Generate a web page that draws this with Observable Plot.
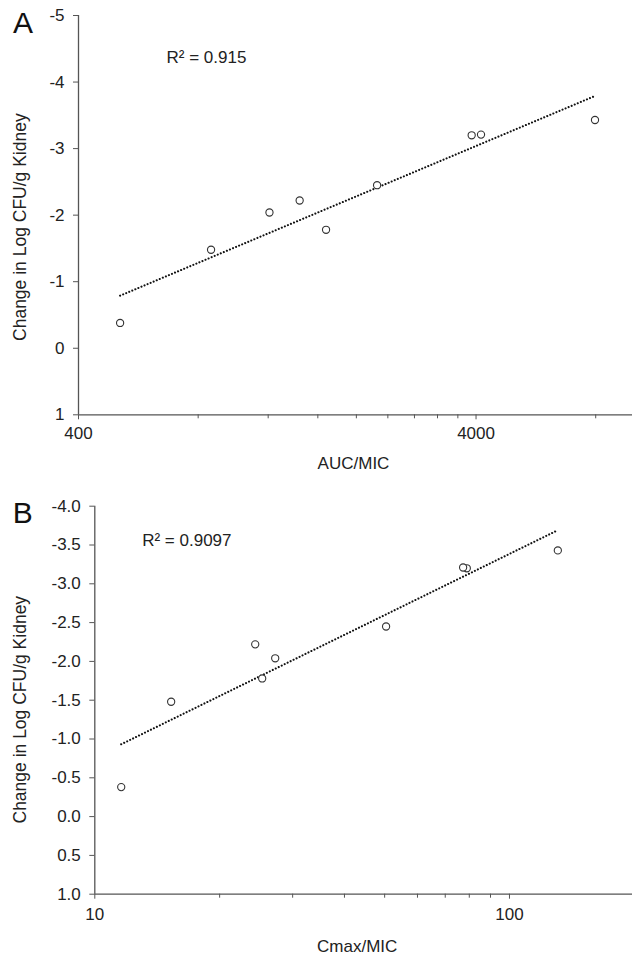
<!DOCTYPE html>
<html>
<head>
<meta charset="utf-8">
<script src="https://cdn.jsdelivr.net/npm/d3@7"></script>
<script src="https://cdn.jsdelivr.net/npm/@observablehq/plot@0.6"></script>
<style>
  html, body { margin: 0; padding: 0; background: #fff; }
  #chart { width: 633px; }
  #chart svg { display: block; }
</style>
</head>
<body>
<div id="chart"></div>
<script>
// ---- Data ----
const logChange = [-0.38, -1.48, -2.04, -2.22, -1.78, -2.45, -3.20, -3.21, -3.43];
const aucMic    = [509, 862, 1209, 1440, 1678, 2255, 3900, 4117, 7967];
const cmaxMic   = [11.58, 15.28, 27.23, 24.37, 25.33, 50.4, 78.9, 77.3, 130.8];

const panelLetters = ["A", "B"];
const r2Labels = ["R² = 0.915", "R² = 0.9097"];
const xLabels = ["AUC/MIC", "Cmax/MIC"];
const yLabel = "Change in Log CFU/g Kidney";

const xDomainA = [400, 9900];
const xMajorA = [400, 4000];
const xMinorA = [800, 1200, 1600, 2000, 2400, 2800, 3200, 3600, 8000];
const yTicksA = [-5, -4, -3, -2, -1, 0, 1];

const xDomainB = [10, 198];
const xMajorB = [10, 100];
const xMinorB = [20, 30, 40, 50, 60, 70, 80, 90];
const yTicksB = [-4.0, -3.5, -3.0, -2.5, -2.0, -1.5, -1.0, -0.5, 0.0, 0.5, 1.0];

// Least-squares fit of y on log10(x) (Excel logarithmic trendline)
function logFit(xs, ys) {
  const lx = xs.map(Math.log10);
  const mx = d3.mean(lx), my = d3.mean(ys);
  const b = d3.sum(lx, (v, i) => (v - mx) * (ys[i] - my)) / d3.sum(lx, v => (v - mx) ** 2);
  const a = my - b * mx;
  const ext = d3.extent(xs);
  return ext.map(x => ({x, y: a + b * Math.log10(x)}));
}

const font = "'Liberation Sans', Arial, Helvetica, sans-serif";
const axisColor = "#555";
const textColor = "#222";

function panel(cfg) {
  const pts = cfg.xs.map((x, i) => ({x, y: cfg.ys[i]}));
  const fit = logFit(cfg.xs, cfg.ys);
  return Plot.plot({
    width: 633,
    height: cfg.height,
    marginTop: cfg.mt,
    marginBottom: cfg.mb,
    marginLeft: cfg.ml,
    marginRight: 1,
    style: {fontFamily: font, fontSize: "17px", color: textColor, background: "white", overflow: "visible"},
    x: {type: "log", domain: cfg.xDomain},
    y: {domain: cfg.yDomain, reverse: true},
    marks: [
      Plot.ruleX([cfg.xDomain[0]], {stroke: axisColor, strokeWidth: 1.3}),
      Plot.ruleY([cfg.yDomain[1]], {stroke: axisColor, strokeWidth: 1.3}),
      Plot.axisY(cfg.yTicks, {tickSize: 5, tickPadding: cfg.ytp, tickFormat: cfg.yFmt, label: null, stroke: axisColor, fill: textColor}),
      Plot.axisX(cfg.xMajor, {tickSize: 5, tickPadding: cfg.xtp, tickFormat: d => String(d), label: null, stroke: axisColor, fill: textColor}),
      Plot.axisX(cfg.xMinor, {tickSize: 4, tickFormat: () => "", label: null, stroke: axisColor}),
      Plot.line(fit, {x: "x", y: "y", stroke: "#111", strokeWidth: 2.1, strokeDasharray: "0.01,3.3", strokeLinecap: "round"}),
      Plot.dot(pts, {x: "x", y: "y", r: 3.6, stroke: "#333", strokeWidth: 1.1, fill: "white"}),
      Plot.text([cfg.r2], {frameAnchor: "top-left", dx: cfg.r2dx, dy: cfg.r2dy, textAnchor: "start", lineAnchor: "middle", fontSize: 17, fill: textColor}),
      Plot.text([cfg.letter], {frameAnchor: "top-left", dx: cfg.ldx, dy: cfg.ldy, textAnchor: "middle", lineAnchor: "middle", fontSize: 30, fill: "#111"}),
      Plot.text([yLabel], {frameAnchor: "left", rotate: -90, dx: cfg.yldx, dy: cfg.yldy, textAnchor: "middle", lineAnchor: "middle", fontSize: 17.5, fill: textColor}),
      Plot.text([cfg.xLabel], {frameAnchor: "bottom", dx: cfg.xldx, dy: cfg.xldy, textAnchor: "middle", lineAnchor: "middle", fontSize: 17, fill: textColor})
    ]
  });
}

const chart = document.getElementById("chart");

chart.append(panel({
  height: 470, mt: 15, mb: 55.7, ml: 78,
  xs: aucMic, ys: logChange,
  xDomain: xDomainA, yDomain: [-5, 1],
  xMajor: xMajorA, xMinor: xMinorA, yTicks: yTicksA,
  yFmt: d => String(d), ytp: 9, xtp: 7,
  r2: r2Labels[0], r2dx: 88, r2dy: 41.7,
  letter: panelLetters[0], ldx: -55.5, ldy: 7.5,
  xLabel: xLabels[0], xldx: -2, xldy: 48.7,
  yldx: -58, yldy: 12
}));

chart.append(panel({
  height: 487, mt: 35.7, mb: 63.3, ml: 94.3,
  xs: cmaxMic, ys: logChange,
  xDomain: xDomainB, yDomain: [-4, 1],
  xMajor: xMajorB, xMinor: xMinorB, yTicks: yTicksB,
  yFmt: d => d.toFixed(1), ytp: 9, xtp: 9,
  r2: r2Labels[1], r2dx: 47.4, r2dy: 34.3,
  letter: panelLetters[1], ldx: -72, ldy: 7.6,
  xLabel: xLabels[1], xldx: -6.5, xldy: 52.3,
  yldx: -74.3, yldy: 9.5
}));
</script>
</body>
</html>
